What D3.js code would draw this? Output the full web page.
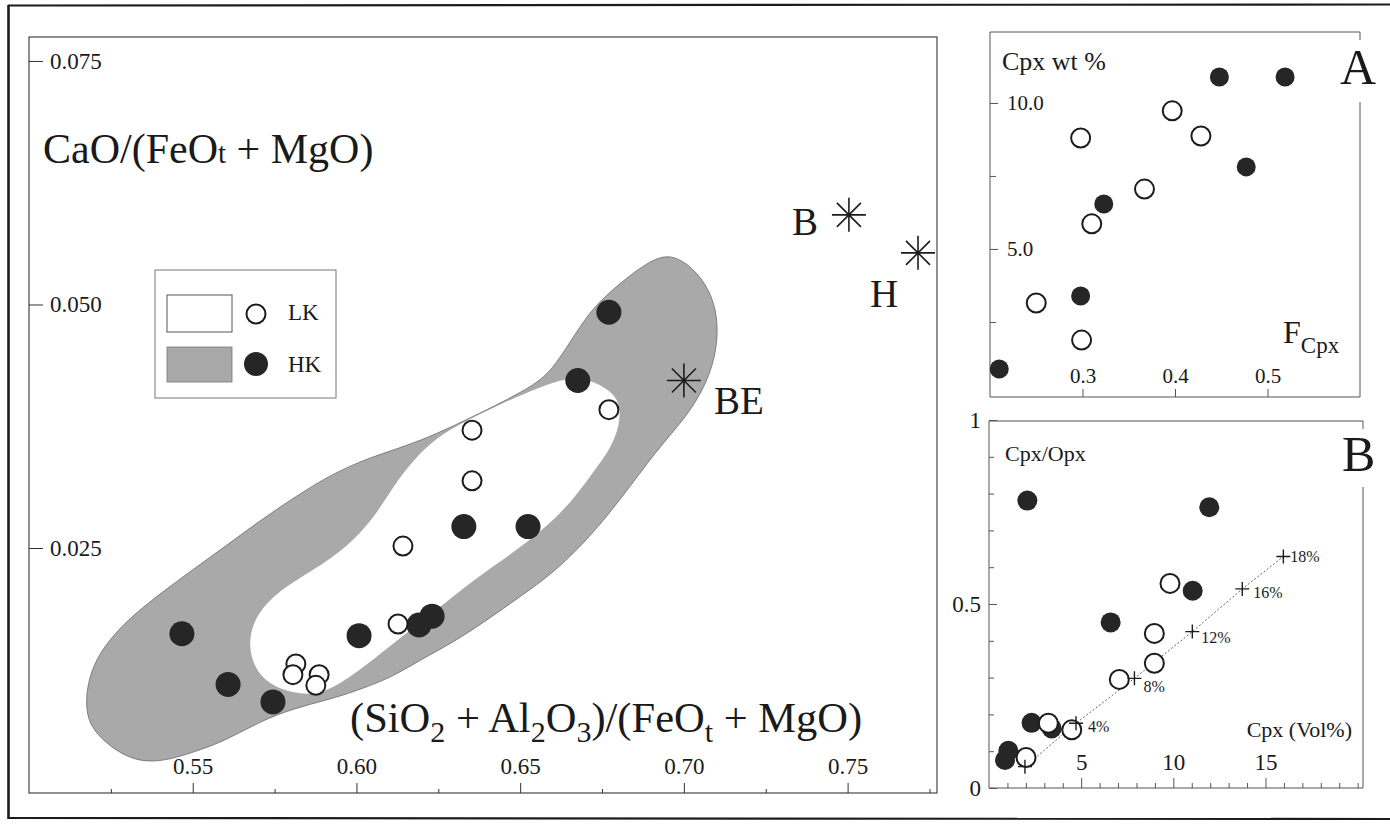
<!DOCTYPE html>
<html><head><meta charset="utf-8">
<script src="https://cdn.jsdelivr.net/npm/d3@7"></script>
<style>
body{margin:0;background:#fff}
svg{display:block}
text{font-family:"Liberation Serif","Times New Roman",serif;fill:#1a1a1a}
</style>
</head><body>
<svg id="c" width="1390" height="826"></svg>
<script>
// ---------------- DATA ----------------
// Main diagram: x = (SiO2+Al2O3)/(FeOt+MgO), y = CaO/(FeOt+MgO)
const mainXTicks = [0.55, 0.60, 0.65, 0.70, 0.75];
const mainXMinor = [0.525, 0.575, 0.625, 0.675, 0.725, 0.775];
const mainYTicks = [0.025, 0.050, 0.075];

// HK field (shaded) outline
const hkFieldX = [0.6957,0.7028,0.7079,0.7104,0.7101,0.7070,0.7009,0.6918,0.6805,0.6704,0.6600,0.6499,0.6399,0.6295,0.6194,0.6107,0.5989,0.5910,0.5806,0.5705,0.5605,0.5501,0.5400,0.5318,0.5247,0.5186,0.5171,0.5186,0.5226,0.5299,0.5400,0.5501,0.5605,0.5705,0.5806,0.5910,0.6011,0.6107,0.6194,0.6295,0.6399,0.6499,0.6576,0.6621,0.6667,0.6722,0.6805,0.6887];
const hkFieldY = [0.0553,0.0538,0.0515,0.0487,0.0453,0.0419,0.0385,0.0351,0.0299,0.0258,0.0224,0.0200,0.0176,0.0153,0.0135,0.0117,0.0102,0.0094,0.0085,0.0072,0.0053,0.0040,0.0030,0.0032,0.0046,0.0066,0.0091,0.0122,0.0148,0.0176,0.0203,0.0228,0.0253,0.0278,0.0301,0.0323,0.0339,0.0350,0.0360,0.0375,0.0392,0.0409,0.0425,0.0445,0.0469,0.0497,0.0522,0.0543];
// LK field (white) outline
const lkFieldX = [0.6643,0.6713,0.6774,0.6805,0.6805,0.6774,0.6734,0.6661,0.6582,0.6478,0.6356,0.6255,0.6154,0.6050,0.5971,0.5889,0.5806,0.5736,0.5684,0.5669,0.5696,0.5766,0.5867,0.5971,0.6050,0.6112,0.6173,0.6246,0.6337,0.6447,0.6560];
const lkFieldY = [0.0425,0.0423,0.0412,0.0399,0.0376,0.0351,0.0333,0.0299,0.0272,0.0245,0.0217,0.0189,0.0163,0.0135,0.0115,0.0099,0.0101,0.0109,0.0128,0.0156,0.0183,0.0207,0.0227,0.0251,0.0279,0.0313,0.0340,0.0364,0.0381,0.0399,0.0415];

// samples
const hkX = [0.5467,0.5608,0.5745,0.6008,0.6191,0.6231,0.6328,0.6524,0.6676,0.6771];
const hkY = [0.0162,0.0110,0.0092,0.0160,0.0171,0.0180,0.0272,0.0272,0.0422,0.0492];
const lkX = [0.6353,0.6353,0.6142,0.6127,0.5815,0.5806,0.5886,0.5876,0.6771];
const lkY = [0.0371,0.0319,0.0252,0.0172,0.0131,0.0120,0.0120,0.0109,0.0392];

// reference compositions (asterisks)
const starLabels = ["B", "H", "BE"];
const starX = [0.7504, 0.7715, 0.7000];
const starY = [0.0592, 0.0553, 0.0422];

// Inset A: Cpx wt % vs F_Cpx
const aXTicks = [0.3, 0.4, 0.5];
const aYTicks = [5, 10];
const aYMinor = [2.5, 7.5];
const aLkX = [0.250,0.299,0.310,0.298,0.367,0.397,0.428];
const aLkY = [3.15,1.88,5.86,8.80,7.05,9.73,8.87];
const aHkX = [0.210,0.298,0.323,0.448,0.519,0.477];
const aHkY = [0.89,3.39,6.54,10.89,10.89,7.81];

// Inset B: Cpx/Opx vs Cpx (Vol%)
const bXTicks = [5, 10, 15];
const bXMinor = [1,2,3,4,6,7,8,9,11,12,13,14,16,17,18,19,20];
const bYTicks = [0, 0.5, 1];
const bYMinor = [0.1,0.2,0.3,0.4,0.6,0.7,0.8,0.9];
const bHkX = [2.08,11.95,6.60,11.05,2.31,3.40,1.05,0.87];
const bHkY = [0.781,0.763,0.450,0.536,0.177,0.162,0.101,0.076];
const bLkX = [9.82,8.97,8.97,7.07,3.22,4.49,2.01];
const bLkY = [0.556,0.420,0.339,0.295,0.176,0.158,0.083];
// melting model
const modelX = [1.95,4.72,7.89,11.03,13.74,15.97];
const modelY = [0.058,0.176,0.298,0.425,0.541,0.629];
const modelLabels = ["", "4%", "8%", "12%", "16%", "18%"];

// ---------------- DRAW ----------------
const svg = d3.select("#c");
const INK = "#1c1c1c";
const GRAY = "#a9a9a9";
const zip = (a, b) => a.map((v, i) => [v, b[i]]);

// outer frame
svg.append("line").attr("x1",8).attr("y1",5.5).attr("x2",1390).attr("y2",4.5).attr("stroke",INK).attr("stroke-width",2.2);
svg.append("line").attr("x1",8.5).attr("y1",5).attr("x2",8.5).attr("y2",819).attr("stroke",INK).attr("stroke-width",2.6);
svg.append("line").attr("x1",8).attr("y1",818).attr("x2",1390).attr("y2",819).attr("stroke",INK).attr("stroke-width",2.2);

// ===== main plot =====
const mx = d3.scaleLinear().domain([0.5, 0.7773]).range([29, 937]);
const my = d3.scaleLinear().domain([-0.00015, 0.07746]).range([793, 37]);
const main = svg.append("g");

// frame
main.append("rect").attr("x",29).attr("y",37).attr("width",908).attr("height",756)
  .attr("fill","none").attr("stroke","#333").attr("stroke-width",1.1);

// fields
const closed = d3.line().x(d => mx(d[0])).y(d => my(d[1])).curve(d3.curveBasisClosed);
main.append("path").attr("d", closed(zip(hkFieldX, hkFieldY)))
  .attr("fill", GRAY).attr("stroke","#6a6a6a").attr("stroke-width",0.8);
main.append("path").attr("d", closed(zip(lkFieldX, lkFieldY)))
  .attr("fill", "#fff").attr("stroke","none");

// axes (ticks inward)
const xAx = d3.axisTop(mx).tickValues(mainXTicks).tickSize(10).tickPadding(9).tickFormat(d3.format(".2f"));
const gx = main.append("g").attr("transform","translate(0,793)").call(xAx);
const xAxMinor = d3.axisTop(mx).tickValues(mainXMinor).tickSize(4).tickFormat("");
const gxm = main.append("g").attr("transform","translate(0,793)").call(xAxMinor);
const yAx = d3.axisRight(my).tickValues(mainYTicks).tickSize(14).tickPadding(7).tickFormat(d3.format(".3f"));
const gy = main.append("g").attr("transform","translate(29,0)").call(yAx);
[gx, gxm, gy].forEach(g => {
  g.select(".domain").remove();
  g.selectAll("line").attr("stroke","#333").attr("stroke-width",1);
  g.selectAll("text").attr("font-size",23).attr("font-family","Liberation Serif").attr("fill",INK);
});

// axis titles
const yt = main.append("text").attr("x",43).attr("y",163).attr("font-size",42);
yt.append("tspan").text("CaO/(FeO");
yt.append("tspan").attr("font-size",29).text("t");
yt.append("tspan").text(" + MgO)");

const xt = main.append("text").attr("x",350).attr("y",732).attr("font-size",42.5);
xt.append("tspan").text("(SiO");
xt.append("tspan").attr("font-size",30).attr("dy",10).text("2");
xt.append("tspan").attr("dy",-10).text(" + Al");
xt.append("tspan").attr("font-size",30).attr("dy",10).text("2");
xt.append("tspan").attr("dy",-10).text("O");
xt.append("tspan").attr("font-size",30).attr("dy",10).text("3");
xt.append("tspan").attr("dy",-10).text(")/(FeO");
xt.append("tspan").attr("font-size",30).attr("dy",10).text("t");
xt.append("tspan").attr("dy",-10).text(" + MgO)");

// legend
const lg = main.append("g");
lg.append("rect").attr("x",155).attr("y",270).attr("width",181).attr("height",128)
  .attr("fill","#fff").attr("stroke","#777").attr("stroke-width",1);
lg.append("rect").attr("x",167).attr("y",295).attr("width",65).attr("height",37)
  .attr("fill","#fff").attr("stroke","#555").attr("stroke-width",1);
lg.append("rect").attr("x",167).attr("y",347).attr("width",65).attr("height",35)
  .attr("fill",GRAY).attr("stroke","#777").attr("stroke-width",0.8);
lg.append("circle").attr("cx",256).attr("cy",314).attr("r",9.5).attr("fill","#fff").attr("stroke",INK).attr("stroke-width",2);
lg.append("circle").attr("cx",256).attr("cy",364).attr("r",12).attr("fill","#262626");
lg.append("text").attr("x",288).attr("y",320).attr("font-size",23).text("LK");
lg.append("text").attr("x",288).attr("y",372).attr("font-size",23).text("HK");

// samples
main.selectAll("circle.hk").data(zip(hkX, hkY)).join("circle").attr("class","hk")
  .attr("cx", d => mx(d[0])).attr("cy", d => my(d[1])).attr("r", 12.5).attr("fill","#262626");
main.selectAll("circle.lk").data(zip(lkX, lkY)).join("circle").attr("class","lk")
  .attr("cx", d => mx(d[0])).attr("cy", d => my(d[1])).attr("r", 9.5)
  .attr("fill","#fff").attr("stroke",INK).attr("stroke-width",2);

// asterisks
function asterisk(cx, cy, r) {
  let p = "";
  for (let k = 0; k < 4; k++) {
    const a = k * Math.PI / 4;
    const dx = r * Math.cos(a), dy = r * Math.sin(a);
    p += `M${cx - dx},${cy - dy}L${cx + dx},${cy + dy}`;
  }
  return p;
}
const starOffsets = { "B": [-57, 20], "H": [-48, 54], "BE": [30, 34] };
starLabels.forEach((lab, i) => {
  const cx = mx(starX[i]), cy = my(starY[i]);
  main.append("path").attr("d", asterisk(cx, cy, 17)).attr("stroke", INK).attr("stroke-width", 1.6).attr("fill","none");
  main.append("text").attr("x", cx + starOffsets[lab][0]).attr("y", cy + starOffsets[lab][1])
    .attr("font-size", 39).text(lab);
});

// ===== inset A =====
const ax = d3.scaleLinear().domain([0.2, 0.6]).range([990, 1360]);
const ay = d3.scaleLinear().domain([-0.07, 12.43]).range([397, 32]);
const A = svg.append("g");
const FR = "#555";
A.append("line").attr("x1",990).attr("y1",32).attr("x2",1360).attr("y2",32).attr("stroke",FR).attr("stroke-width",1);
A.append("line").attr("x1",990).attr("y1",32).attr("x2",990).attr("y2",397).attr("stroke",FR).attr("stroke-width",1);
A.append("line").attr("x1",990).attr("y1",397).attr("x2",1360).attr("y2",397).attr("stroke",FR).attr("stroke-width",1);
A.append("line").attr("x1",1360).attr("y1",102).attr("x2",1360).attr("y2",397).attr("stroke",FR).attr("stroke-width",1);
A.append("line").attr("x1",1360).attr("y1",32).attr("x2",1360).attr("y2",40).attr("stroke",FR).attr("stroke-width",1);

const aXA = d3.axisTop(ax).tickValues(aXTicks).tickSize(8).tickPadding(6).tickFormat(d3.format(".1f"));
const gax = A.append("g").attr("transform","translate(0,397)").call(aXA);
const aYA = d3.axisRight(ay).tickValues(aYTicks).tickSize(8).tickPadding(9).tickFormat(d3.format(".1f"));
const gay = A.append("g").attr("transform","translate(990,0)").call(aYA);
const aYm = d3.axisRight(ay).tickValues(aYMinor).tickSize(6).tickFormat("");
const gaym = A.append("g").attr("transform","translate(990,0)").call(aYm);
[gax, gay, gaym].forEach(g => {
  g.select(".domain").remove();
  g.selectAll("line").attr("stroke","#555").attr("stroke-width",1);
  g.selectAll("text").attr("font-size",21).attr("font-family","Liberation Serif").attr("fill",INK);
});

A.append("text").attr("x",1002).attr("y",70).attr("font-size",26).text("Cpx wt %");
A.append("text").attr("x",1340).attr("y",84).attr("font-size",50).text("A");
const fl = A.append("text").attr("x",1283).attr("y",343).attr("font-size",32);
fl.append("tspan").text("F");
fl.append("tspan").attr("font-size",23).attr("dy",10).text("Cpx");

A.selectAll("circle.ahk").data(zip(aHkX, aHkY)).join("circle").attr("class","ahk")
  .attr("cx", d => ax(d[0])).attr("cy", d => ay(d[1])).attr("r", 9.5).attr("fill","#262626");
A.selectAll("circle.alk").data(zip(aLkX, aLkY)).join("circle").attr("class","alk")
  .attr("cx", d => ax(d[0])).attr("cy", d => ay(d[1])).attr("r", 9.5)
  .attr("fill","#fff").attr("stroke",INK).attr("stroke-width",2);

// ===== inset B =====
const bx = d3.scaleLinear().domain([0, 20.29]).range([989, 1363]);
const by = d3.scaleLinear().domain([0, 1]).range([788, 420]);
const B = svg.append("g");
B.append("line").attr("x1",989).attr("y1",421).attr("x2",1363).attr("y2",421).attr("stroke",FR).attr("stroke-width",1);
B.append("line").attr("x1",989).attr("y1",421).attr("x2",989).attr("y2",788).attr("stroke",FR).attr("stroke-width",1);
B.append("line").attr("x1",989).attr("y1",788).attr("x2",1363).attr("y2",788).attr("stroke",FR).attr("stroke-width",1);
B.append("line").attr("x1",1363).attr("y1",487).attr("x2",1363).attr("y2",788).attr("stroke",FR).attr("stroke-width",1);
B.append("line").attr("x1",1363).attr("y1",421).attr("x2",1363).attr("y2",429).attr("stroke",FR).attr("stroke-width",1);

const bXA = d3.axisTop(bx).tickValues(bXTicks).tickSize(10).tickPadding(8).tickFormat(d3.format("d"));
const gbx = B.append("g").attr("transform","translate(0,788)").call(bXA);
const bXm = d3.axisTop(bx).tickValues(bXMinor).tickSize(5).tickFormat("");
const gbxm = B.append("g").attr("transform","translate(0,788)").call(bXm);
const bYA = d3.axisLeft(by).tickValues(bYTicks).tickSizeInner(-8).tickSizeOuter(0).tickPadding(8).tickFormat(d => d === 0.5 ? "0.5" : String(d));
const gby = B.append("g").attr("transform","translate(989,0)").call(bYA);
const bYm = d3.axisLeft(by).tickValues(bYMinor).tickSizeInner(-5).tickSizeOuter(0).tickFormat("");
const gbym = B.append("g").attr("transform","translate(989,0)").call(bYm);
[gbx, gbxm, gby, gbym].forEach(g => {
  g.select(".domain").remove();
  g.selectAll("line").attr("stroke","#555").attr("stroke-width",1);
  g.selectAll("text").attr("font-size",23).attr("font-family","Liberation Serif").attr("fill",INK);
});

B.append("text").attr("x",1005).attr("y",461).attr("font-size",22).text("Cpx/Opx");
B.append("text").attr("x",1352).attr("y",737).attr("font-size",22).attr("text-anchor","end").text("Cpx (Vol%)");
B.append("text").attr("x",1342).attr("y",471).attr("font-size",50).text("B");

// model line
const ln = d3.line().x(d => bx(d[0])).y(d => by(d[1]));
B.append("path").attr("d", ln(zip(modelX, modelY))).attr("fill","none")
  .attr("stroke","#666").attr("stroke-width",1).attr("stroke-dasharray","2,2");

B.selectAll("circle.bhk").data(zip(bHkX, bHkY)).join("circle").attr("class","bhk")
  .attr("cx", d => bx(d[0])).attr("cy", d => by(d[1])).attr("r", 10).attr("fill","#262626");
B.selectAll("circle.blk").data(zip(bLkX, bLkY)).join("circle").attr("class","blk")
  .attr("cx", d => bx(d[0])).attr("cy", d => by(d[1])).attr("r", 9.5)
  .attr("fill","#fff").attr("stroke",INK).attr("stroke-width",2);

const labOff = [[0,0],[12,9],[9,14],[9,11],[11,9],[7,5]];
modelX.forEach((v, i) => {
  const cx = bx(v), cy = by(modelY[i]);
  B.append("path").attr("d", `M${cx-7},${cy}L${cx+7},${cy}M${cx},${cy-7}L${cx},${cy+7}`)
    .attr("stroke", INK).attr("stroke-width", 1.4);
  if (modelLabels[i]) B.append("text").attr("x", cx + labOff[i][0]).attr("y", cy + labOff[i][1])
    .attr("font-size", 16).text(modelLabels[i]);
});
</script>
</body></html>
